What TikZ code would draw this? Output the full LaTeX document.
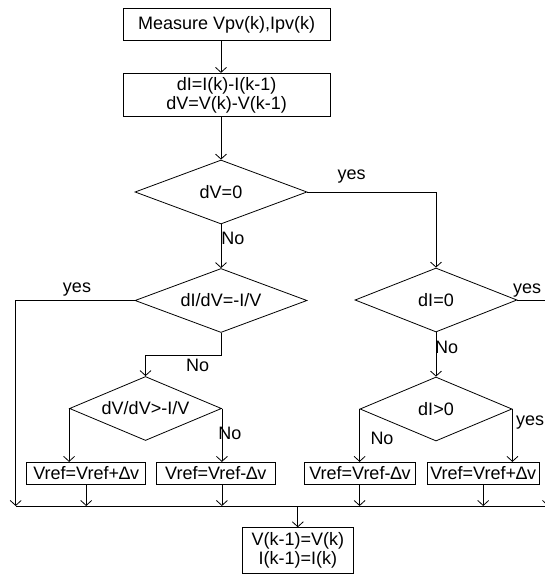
\documentclass[tikz,border=0pt]{standalone}
\usepackage{fontspec}
\setmainfont{Liberation Sans}
\usetikzlibrary{arrows.meta,shapes.geometric}
\tikzset{
  box/.style={draw,rectangle,inner sep=0pt,align=center},
  dec/.style={draw,diamond,inner sep=0pt,shape aspect=2.7},
  flow/.style={-{Straight Barb[length=5bp,width=11bp]}},
  lbl/.style={inner sep=0pt}
}

\begin{document}
\begin{tikzpicture}[x=1bp,y=-1bp,line width=0.8bp,font=\fontsize{18bp}{19bp}\selectfont]
  \useasboundingbox (0,0) rectangle (545,575);
  \clip (0,0) rectangle (545,575);
      \node[box,minimum width=207bp,minimum height=32.4bp] (meas) at (226.7,24.5) {Measure Vpv(k),Ipv(k)}; % measure box
      \node[box,minimum width=207bp,minimum height=43.4bp] (diff) at (226.7,95) {dI=I(k)-I(k-1)\\dV=V(k)-V(k-1)}; % differences box
      \node[dec,minimum width=172bp,minimum height=64bp] (dv) at (221,192) {dV=0}; % first test
      \node[dec,minimum width=172bp,minimum height=64bp] (inc) at (221,300.5) {dI/dV=-I/V}; % incremental test
      \node[dec,minimum width=162bp,minimum height=64bp] (di) at (436,300) {dI=0}; % current test
      \node[dec,minimum width=152bp,minimum height=64bp] (gt) at (145.5,408.5) {dV/dV>-I/V}; % left-hand sign test
      \node[dec,minimum width=152bp,minimum height=64bp] (dip) at (436,409) {dI>0}; % right-hand sign test
      \node[box,minimum width=119bp,minimum height=22bp] (up1) at (86.2,473.3) {Vref=Vref+∆v}; % step up
      \node[box,minimum width=118.3bp,minimum height=22bp] (dn1) at (215.8,473.3) {Vref=Vref-∆v}; % step down
      \node[box,minimum width=111.7bp,minimum height=22bp] (dn2) at (359.9,473.3) {Vref=Vref-∆v}; % step down
      \node[box,minimum width=111.7bp,minimum height=22bp] (up2) at (483.2,473.3) {Vref=Vref+∆v}; % step up
      \node[box,minimum width=111bp,minimum height=45.6bp] (upd) at (297.8,550.5) {V(k-1)=V(k)\\I(k-1)=I(k)}; % update box
      \coordinate (busL) at (15.7,506); % left end of bus
      \coordinate (busR) at (548,506); % right end of bus
      \node[lbl] (yes1) at (351.7,176.7) {yes}; % dV=0 yes
      \node[lbl] (no1) at (233,238) {No}; % dV=0 no
      \node[lbl] (yes2) at (77,290) {yes}; % dI/dV yes
      \node[lbl] (no2) at (197.7,365) {No}; % dI/dV no
      \node[lbl] (yes3) at (527,291) {yes}; % dI=0 yes
      \node[lbl] (no3) at (446.7,347.3) {No}; % dI=0 no
      \node[lbl] (no4) at (230,433) {No}; % left sign no
      \node[lbl] (no5) at (382,438) {No}; % right sign no
      \node[lbl] (yes5) at (530,422.7) {yes}; % right sign yes
      \draw[flow] (meas.south -| dv.north) -- (diff.north -| dv.north); % Wiring
      \draw[flow] (diff.south -| dv.north) -- (dv.north); % Wiring
      \draw[flow] (dv.east) -| (di.north); % Wiring
      \draw[flow] (dv.south) -- (inc.north); % Wiring
      \draw[flow] (inc.west) -| (busL); % Wiring
      \draw[flow] (inc.south) -- ++(0,22) -| (gt.north); % Wiring
      \draw[flow] (di.east) -| (busR); % Wiring
      \draw[flow] (di.south) -- (dip.north); % Wiring
      \draw[flow] (gt.west) -- (gt.west |- up1.north); % Wiring
      \draw[flow] (gt.east) -- (gt.east |- dn1.north); % Wiring
      \draw[flow] (dip.west) -- (dip.west |- dn2.north); % Wiring
      \draw[flow] (dip.east) -- (dip.east |- up2.north); % Wiring
      \draw[flow] (up1.south) -- (up1.south |- busL); % Wiring
      \draw[flow] (gt.east |- dn1.south) -- (gt.east |- busL); % Wiring
      \draw[flow] (dip.west |- dn2.south) -- (dip.west |- busL); % Wiring
      \draw[flow] (up2.south) -- (up2.south |- busL); % Wiring
      \draw (busL) -- (busR); % bus
      \draw[flow] (upd.north |- busL) -- (upd.north); % Wiring
\end{tikzpicture}
\end{document}
